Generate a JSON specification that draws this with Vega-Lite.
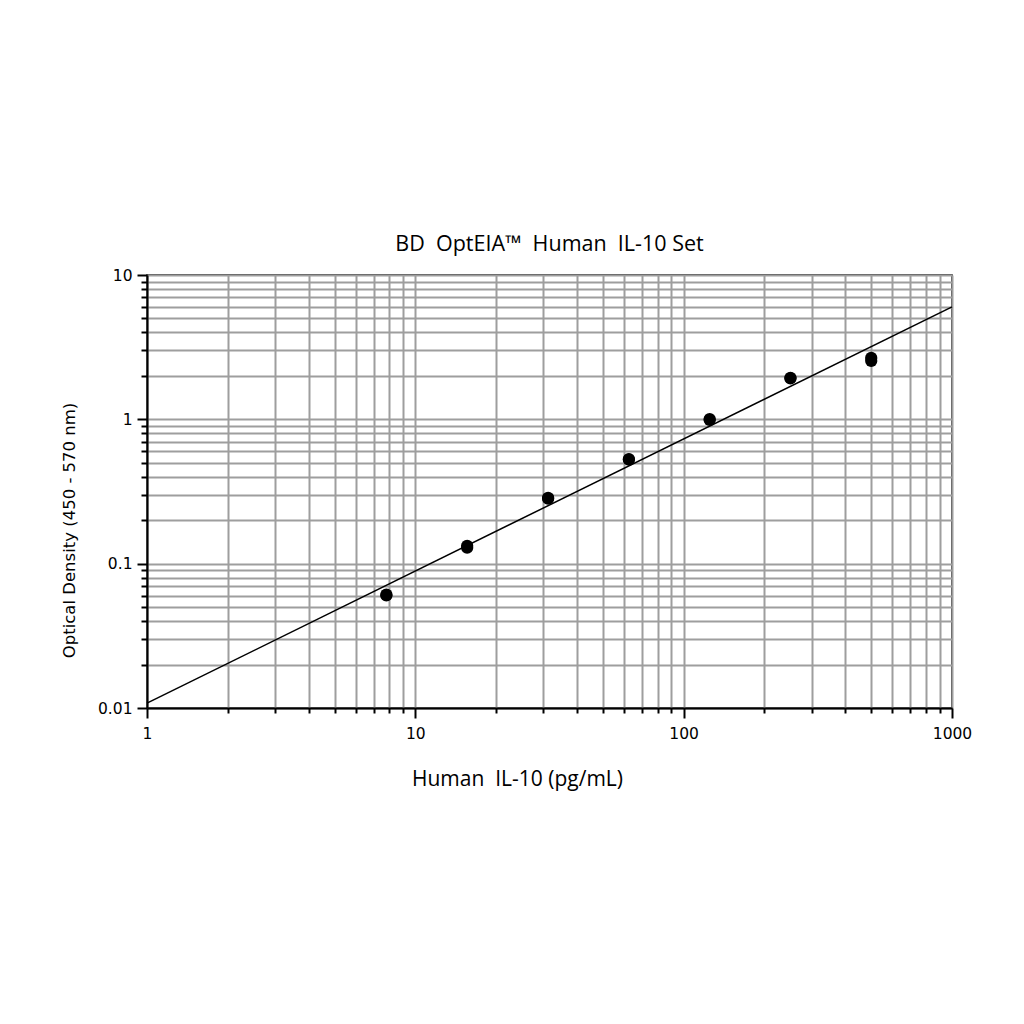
{
  "$schema": "https://vega.github.io/schema/vega-lite/v6.json",
  "width": 805,
  "height": 433,
  "autosize": {"type": "none"},
  "padding": {"left": 147, "top": 275, "right": 72, "bottom": 316},
  "background": "white",
  "title": {
    "text": "BD\u00a0 OptEIA™\u00a0 Human\u00a0 IL-10 Set",
    "font": "Open Sans",
    "fontSize": 21.5,
    "fontWeight": "normal",
    "color": "black",
    "baseline": "alphabetic",
    "frame": "group",
    "anchor": "middle",
    "offset": -4
  },
  "config": {
    "view": {"stroke": "black", "strokeWidth": 1.5},
    "axis": {
      "domainColor": "black",
      "domainWidth": 2,
      "tickColor": "black",
      "tickWidth": 2,
      "gridColor": "#9e9e9e",
      "gridWidth": 2,
      "gridOpacity": 1,
      "labelFont": "DejaVu Sans",
      "labelFontSize": 15.5,
      "labelColor": "black",
      "titleColor": "black",
      "titleFontWeight": "normal"
    }
  },
  "layer": [
    {
      "data": {"values": [
        {"conc": 1, "od": 0.0108},
        {"conc": 1000, "od": 6.02}
      ]},
      "mark": {"type": "line", "color": "black", "strokeWidth": 1.5},
      "encoding": {
        "x": {
          "field": "conc", "type": "quantitative",
          "scale": {"type": "log", "domain": [1, 1000], "nice": false},
          "axis": {
            "values": [1,2,3,4,5,6,7,8,9,10,20,30,40,50,60,70,80,90,100,200,300,400,500,600,700,800,900,1000],
            "labelExpr": "indexof([1,10,100,1000], datum.value) >= 0 ? toString(datum.value) : ''",
            "tickSize": {"condition": {"test": "indexof([1,10,100,1000], datum.value) >= 0", "value": 10}, "value": 5},
            "labelPadding": 8,
            "labelFlush": false,
            "labelOverlap": false,
            "title": "Human\u00a0 IL-10 (pg/mL)",
            "titleFont": "Open Sans",
            "titleFontSize": 21,
            "titleX": 370,
            "titleY": 77,
            "titleAlign": "center",
            "titleBaseline": "alphabetic"
          }
        },
        "y": {
          "field": "od", "type": "quantitative",
          "scale": {"type": "log", "domain": [0.01, 10], "nice": false},
          "axis": {
            "values": [0.01,0.02,0.03,0.04,0.05,0.06,0.07,0.08,0.09,0.1,0.2,0.3,0.4,0.5,0.6,0.7,0.8,0.9,1,2,3,4,5,6,7,8,9,10],
            "labelExpr": "indexof([0.01,0.1,1,10], datum.value) >= 0 ? toString(datum.value) : ''",
            "tickSize": {"condition": {"test": "indexof([0.01,0.1,1,10], datum.value) >= 0", "value": 10}, "value": 6},
            "labelPadding": 5,
            "labelFlush": false,
            "labelOverlap": false,
            "title": "Optical Density (450 - 570 nm)",
            "titleFont": "DejaVu Sans",
            "titleFontSize": 16.5,
            "titleX": -73,
            "titleY": 255,
            "titleAngle": 270,
            "titleAlign": "center",
            "titleBaseline": "alphabetic"
          }
        }
      }
    },
    {
      "data": {"values": [
        {"conc": 7.8, "od": 0.0602},
        {"conc": 7.8, "od": 0.0610},
        {"conc": 15.6, "od": 0.129},
        {"conc": 15.6, "od": 0.133},
        {"conc": 31.25, "od": 0.282},
        {"conc": 31.25, "od": 0.286},
        {"conc": 62.5, "od": 0.525},
        {"conc": 62.5, "od": 0.531},
        {"conc": 125, "od": 0.99},
        {"conc": 125, "od": 1.005},
        {"conc": 250, "od": 1.92},
        {"conc": 250, "od": 1.94},
        {"conc": 500, "od": 2.54},
        {"conc": 500, "od": 2.665}
      ]},
      "mark": {"type": "circle", "color": "black", "opacity": 1, "size": 150},
      "encoding": {
        "x": {"field": "conc", "type": "quantitative"},
        "y": {"field": "od", "type": "quantitative"}
      }
    }
  ]
}
